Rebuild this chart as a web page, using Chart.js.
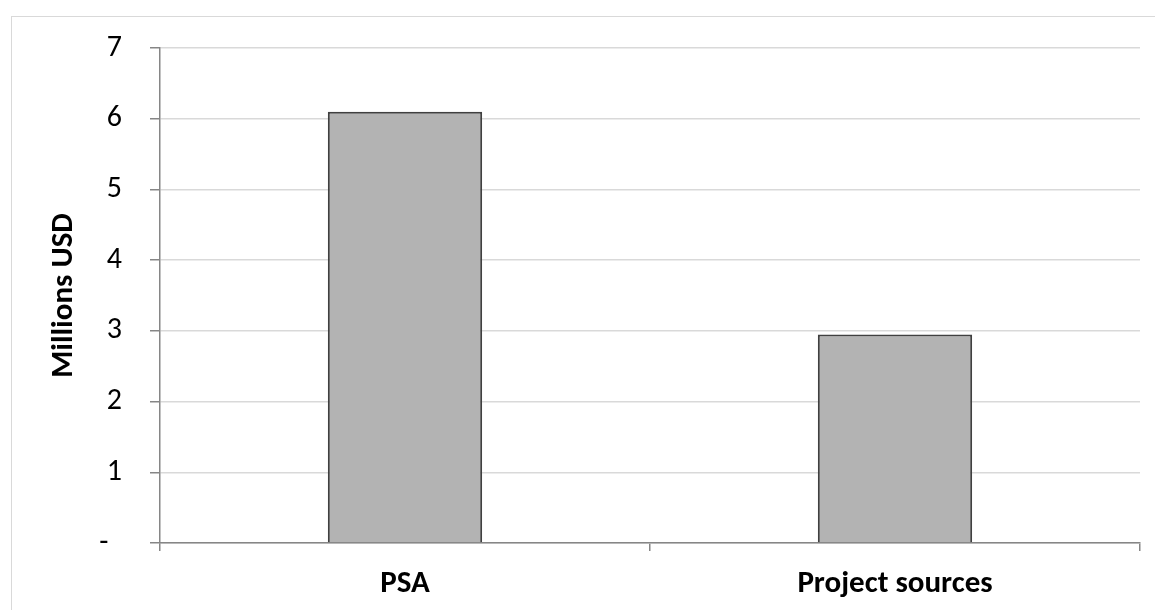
<!DOCTYPE html>
<html>
<head>
<meta charset="utf-8">
<script src="https://cdn.jsdelivr.net/npm/chart.js@4.4.0/dist/chart.umd.min.js"></script>
<style>
    body { margin: 0; background: #fff; }
    #wrap { position: relative; width: 1155px; height: 610px; overflow: hidden; }
    #frame { position: absolute; left: 11px; top: 16px; width: 1200px; height: 700px; border: 1.5px solid #d9d9d9; }
    #chart { position: absolute; left: 0; top: 0; }
</style>
</head>
<body>
<div id="wrap">
    <div id="frame"></div>
    <canvas id="chart" width="1155" height="610"></canvas>
</div>
<script>
const categories = ['PSA', 'Project sources'];
const values = [6.1, 2.95];
const yTicks = [0, 1, 2, 3, 4, 5, 6, 7];

const fontFamily = 'Carlito, "Open Sans", sans-serif';

const ctx = document.getElementById('chart').getContext('2d');

new Chart(ctx, {
    type: 'bar',
    data: {
        labels: categories,
        datasets: [{
            data: values,
            backgroundColor: '#b3b3b3',
            borderColor: '#404040',
            borderWidth: 2,
            categoryPercentage: 1,
            barPercentage: 0.315
        }]
    },
    options: {
        responsive: false,
        animation: false,
        layout: {
            padding: { left: 0, top: 48, right: 15, bottom: 0 }
        },
        plugins: {
            legend: { display: false },
            tooltip: { enabled: false }
        },
        scales: {
            x: {
                grid: {
                    offset: true,
                    drawOnChartArea: false,
                    tickLength: 8,
                    tickColor: '#868686',
                    lineWidth: 1.5
                },
                border: { color: '#868686', width: 1.5 },
                ticks: {
                    color: '#000',
                    padding: 15,
                    font: { family: fontFamily, size: 31, weight: 'bold' }
                },
                afterFit: function (scale) { scale.height = 67; }
            },
            y: {
                min: 0,
                max: 7,
                afterBuildTicks: function (scale) {
                    scale.ticks = yTicks.map(v => ({ value: v }));
                },
                grid: {
                    color: '#d9d9d9',
                    lineWidth: 1.5,
                    tickLength: 10,
                    tickColor: '#868686'
                },
                border: { color: '#868686', width: 1.5 },
                ticks: {
                    color: '#000',
                    padding: 28,
                    font: { family: fontFamily, size: 30 },
                    callback: function (v) { return v === 0 ? '-  ' : v; }
                },
                title: {
                    display: true,
                    text: 'Millions USD',
                    color: '#000',
                    padding: { top: 46, bottom: 0 },
                    font: { family: fontFamily, size: 31, weight: 'bold' }
                },
                afterFit: function (scale) { scale.width = 160; }
            }
        }
    }
});
</script>
</body>
</html>
